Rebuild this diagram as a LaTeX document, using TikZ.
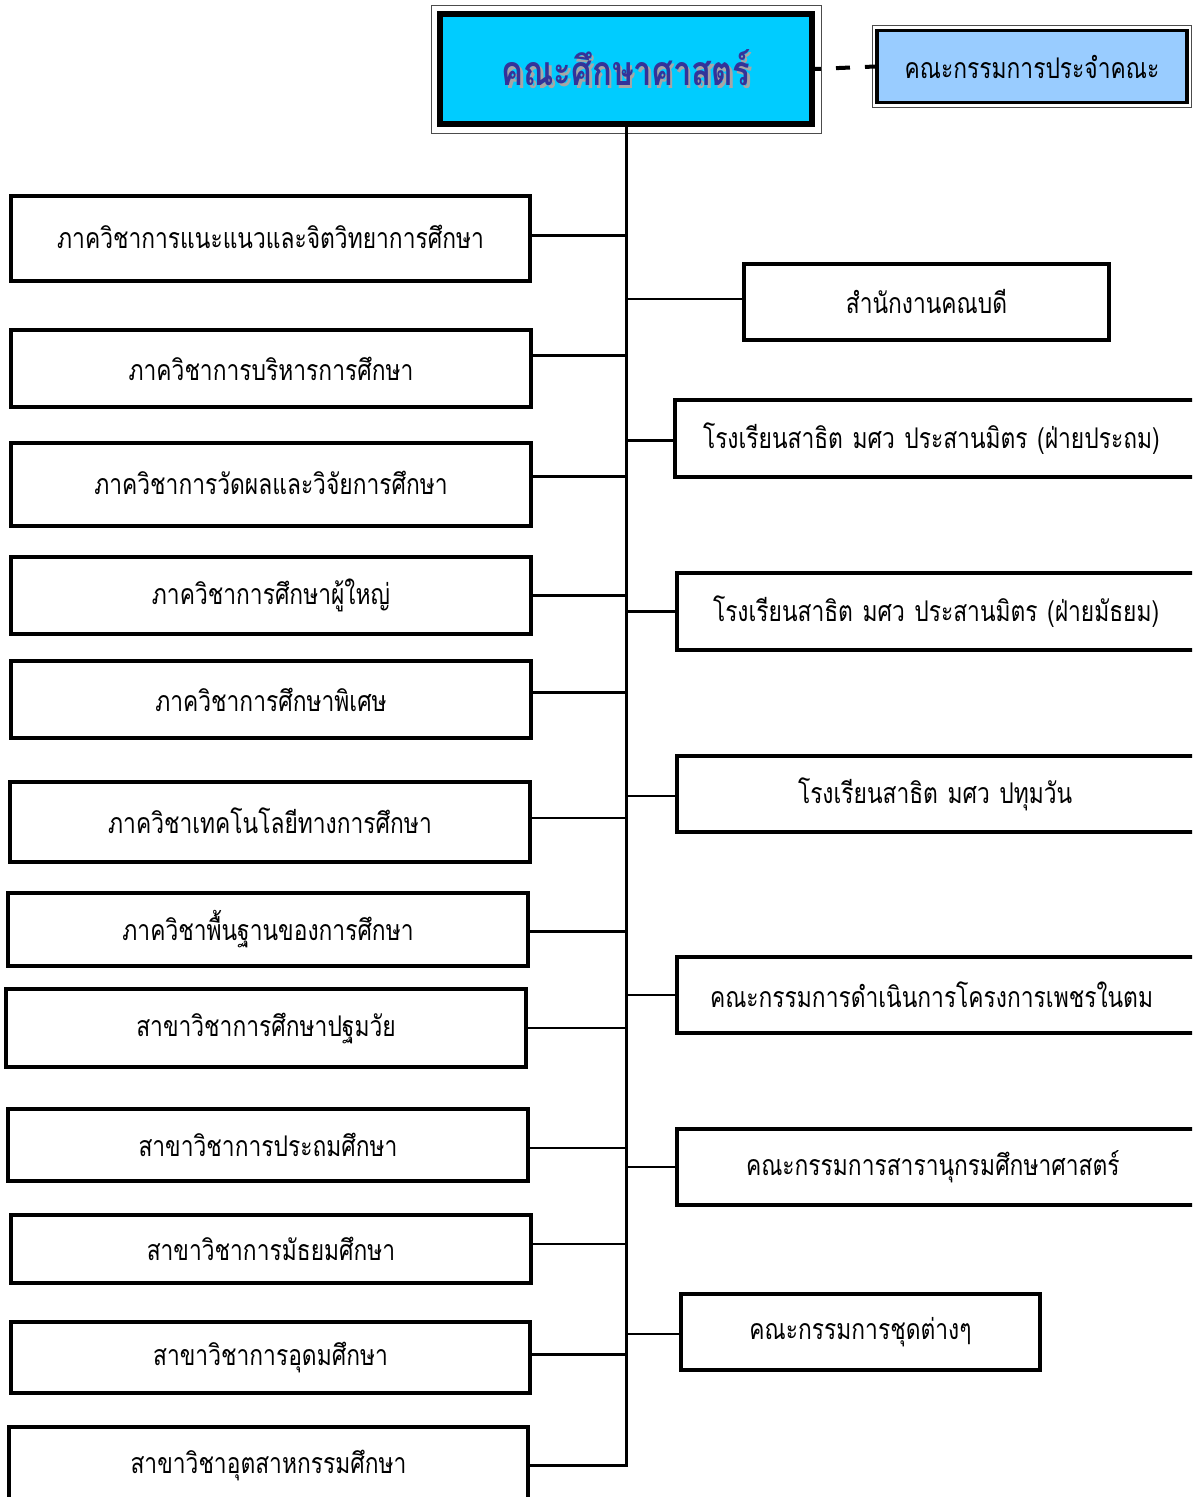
\documentclass[tikz,border=0pt]{standalone}
\usepackage{fontspec}
\newfontfamily\thaifont[Script=Thai,FakeStretch=0.8]{Loma}
\usetikzlibrary{calc}
\definecolor{topfill}{HTML}{00CCFF}
\definecolor{comfill}{HTML}{99CCFF}
\definecolor{toptext}{HTML}{333399}
\begin{document}
\begin{tikzpicture}[x=1pt,y=-1pt,
  box/.style={draw=black, line width=3.5pt, fill=white, inner sep=0pt,
    font=\thaifont\fontsize{28.5}{32}\selectfont},
  conn/.style={draw=black, line width=2.6pt},
  frame/.style={draw=black!70, line width=0.8pt}]
\clip (0,0) rectangle (1192,1497);
\fill[white] (0,0) rectangle (1192,1497);
% top box
\node[draw=black, line width=6pt, fill=topfill, minimum width=372pt, minimum height=110pt, inner sep=0pt,
  font=\thaifont\bfseries\fontsize{41}{46}\selectfont, text=toptext] (top) at (626,69)
  {\rlap{\hspace{2.5pt}\raisebox{-2.5pt}{\color{black!35}คณะศึกษาศาสตร์}}คณะศึกษาศาสตร์};
\draw[frame] ([shift={(-6pt,6pt)}]top.north west) rectangle ([shift={(6pt,-6pt)}]top.south east);
% committee
\node[draw=black, line width=3.5pt, fill=comfill, minimum width=310pt, minimum height=72pt, inner sep=0pt,
  font=\thaifont\fontsize{28.5}{32}\selectfont] (com) at (1032,66.5) {คณะกรรมการประจำคณะ};
\draw[frame] ([shift={(-3pt,3pt)}]com.north west) rectangle ([shift={(3pt,-3pt)}]com.south east);
\draw[line width=4pt, dash pattern=on 14pt off 15pt, dash phase=8pt] (top.east) -- (com.west);
% left boxes
\node[box, minimum width=519pt, minimum height=85pt] (l1) at (270.5,238.5) {\raisebox{4pt}{ภาควิชาการแนะแนวและจิตวิทยาการศึกษา}};
\node[box, minimum width=520pt, minimum height=77pt] (l2) at (271,368.5) {ภาควิชาการบริหารการศึกษา};
\node[box, minimum width=520pt, minimum height=83pt] (l3) at (271,484.5) {\raisebox{3pt}{ภาควิชาการวัดผลและวิจัยการศึกษา}};
\node[box, minimum width=520pt, minimum height=77pt] (l4) at (271,595.5) {ภาควิชาการศึกษาผู้ใหญ่};
\node[box, minimum width=520pt, minimum height=77pt] (l5) at (271,699.5) {ภาควิชาการศึกษาพิเศษ};
\node[box, minimum width=520pt, minimum height=80pt] (l6) at (270,822) {\raisebox{3pt}{ภาควิชาเทคโนโลยีทางการศึกษา}};
\node[box, minimum width=520pt, minimum height=73pt] (l7) at (268,929.5) {ภาควิชาพื้นฐานของการศึกษา};
\node[box, minimum width=520pt, minimum height=78pt] (l8) at (266,1028) {สาขาวิชาการศึกษาปฐมวัย};
\node[box, minimum width=520pt, minimum height=72pt] (l9) at (268,1145) {สาขาวิชาการประถมศึกษา};
\node[box, minimum width=520pt, minimum height=68pt] (l10) at (271,1249) {สาขาวิชาการมัธยมศึกษา};
\node[box, minimum width=519pt, minimum height=71pt] (l11) at (270.5,1357.5) {สาขาวิชาการอุดมศึกษา};
\node[box, minimum width=519pt, minimum height=76pt] (l12) at (268.5,1465) {สาขาวิชาอุตสาหกรรมศึกษา};
% right boxes
\node[box, minimum width=365pt, minimum height=76pt] (r1) at (926.5,302) {\raisebox{1pt}{สำนักงานคณบดี}};
\node[box, minimum width=525pt, minimum height=77pt, text width=525pt, align=left] (r2) at (937.5,438.5) {\hspace{28pt}โรงเรียนสาธิต มศว ประสานมิตร (ฝ่ายประถม)};
\node[box, minimum width=525pt, minimum height=77pt, text width=525pt, align=left] (r3) at (939.5,611.5) {\hspace{36pt}โรงเรียนสาธิต มศว ประสานมิตร (ฝ่ายมัธยม)};
\node[box, minimum width=525pt, minimum height=76pt, text width=525pt, align=left] (r4) at (939.5,794) {\hspace{121pt}โรงเรียนสาธิต มศว ปทุมวัน};
\node[box, minimum width=525pt, minimum height=76pt, text width=525pt, align=left] (r5) at (939.5,995) {\hspace{33pt}คณะกรรมการดำเนินการโครงการเพชรในตม};
\node[box, minimum width=525pt, minimum height=76pt, text width=525pt, align=left] (r6) at (939.5,1167) {\hspace{69pt}คณะกรรมการสารานุกรมศึกษาศาสตร์};
\node[box, minimum width=359pt, minimum height=76pt] (r7) at (860.5,1332) {คณะกรรมการชุดต่างๆ};
% trunk
\coordinate (tend) at (626,1465);
\draw[conn, line width=3pt] (top.south) -- (tend) -- (l12.east);
% left connectors
\draw[conn] ([yshift=3pt]l1.east) -- ([yshift=3pt]l1.east -| tend);
\draw[conn] ([yshift=13pt]l2.east) -- ([yshift=13pt]l2.east -| tend);
\draw[conn] ([yshift=8pt]l3.east) -- ([yshift=8pt]l3.east -| tend);
\draw[conn] (l4.east) -- (l4.east -| tend);
\draw[conn] ([yshift=7pt]l5.east) -- ([yshift=7pt]l5.east -| tend);
\draw[conn] ([yshift=4pt]l6.east) -- ([yshift=4pt]l6.east -| tend);
\draw[conn] ([yshift=-2pt]l7.east) -- ([yshift=-2pt]l7.east -| tend);
\draw[conn] (l8.east) -- (l8.east -| tend);
\draw[conn] ([yshift=-3pt]l9.east) -- ([yshift=-3pt]l9.east -| tend);
\draw[conn] ([yshift=5pt]l10.east) -- ([yshift=5pt]l10.east -| tend);
\draw[conn] ([yshift=3pt]l11.east) -- ([yshift=3pt]l11.east -| tend);
% right connectors
\draw[conn] ([yshift=3pt]r1.west) -- ([yshift=3pt]r1.west -| tend);
\draw[conn] ([yshift=-2pt]r2.west) -- ([yshift=-2pt]r2.west -| tend);
\draw[conn] (r3.west) -- (r3.west -| tend);
\draw[conn] ([yshift=-2pt]r4.west) -- ([yshift=-2pt]r4.west -| tend);
\draw[conn] (r5.west) -- (r5.west -| tend);
\draw[conn] (r6.west) -- (r6.west -| tend);
\draw[conn] ([yshift=-2pt]r7.west) -- ([yshift=-2pt]r7.west -| tend);
\end{tikzpicture}
\end{document}
